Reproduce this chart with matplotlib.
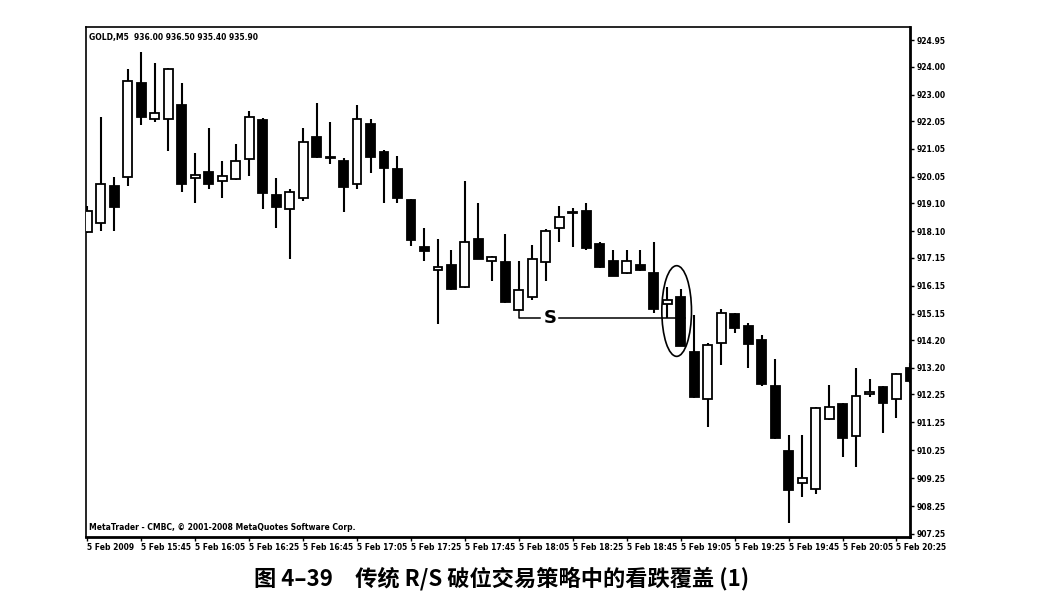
import matplotlib
matplotlib.use("Agg")
import matplotlib.pyplot as plt
from matplotlib.patches import Ellipse
import numpy as np

plt.rcParams['font.family'] = ['Noto Sans CJK SC', 'DejaVu Sans']

# OHLC das velas M5
opens = [918.07, 918.40, 919.72, 920.05, 923.41, 922.12, 922.12, 922.63, 920.01, 920.22,
         919.90, 919.97, 920.69, 922.10, 919.40, 918.90, 919.29, 921.48, 920.73, 920.62,
         919.79, 921.94, 920.94, 920.33, 919.22, 917.54, 916.71, 916.89, 916.10, 917.82,
         917.03, 917.00, 915.28, 915.74, 917.00, 918.22, 918.75, 918.83, 917.64, 917.03,
         916.60, 916.89, 916.60, 915.49, 915.74, 913.77, 912.09, 914.10, 915.13, 914.70,
         914.20, 912.55, 910.22, 909.08, 908.86, 911.37, 911.91, 910.76, 912.27, 912.52,
         912.09, 913.20]
highs = [919.01, 922.20, 920.05, 923.92, 924.52, 924.13, 923.95, 923.41, 920.91, 921.80,
         920.62, 921.23, 922.41, 922.16, 920.01, 919.61, 921.80, 922.70, 922.02, 920.73,
         922.63, 922.12, 921.01, 920.80, 919.24, 918.22, 917.82, 917.43, 919.90, 919.11,
         917.20, 918.00, 917.03, 917.61, 918.18, 919.01, 918.93, 919.11, 917.72, 917.43,
         917.43, 917.43, 917.72, 916.10, 916.03, 915.10, 914.10, 915.31, 915.17, 914.81,
         914.38, 913.52, 910.80, 910.80, 911.80, 912.59, 911.95, 913.20, 912.81, 912.55,
         913.02, 913.38]
lows = [918.05, 918.11, 918.11, 919.72, 921.91, 922.02, 920.98, 919.51, 919.11, 919.61,
        919.29, 919.95, 920.08, 918.90, 918.22, 917.11, 919.18, 920.74, 920.51, 918.79,
        919.61, 920.19, 919.11, 919.11, 917.57, 917.03, 914.78, 916.01, 916.08, 917.09,
        916.32, 915.54, 915.26, 915.64, 916.32, 917.72, 917.54, 917.43, 916.80, 916.48,
        916.58, 916.69, 915.17, 915.00, 913.97, 912.14, 911.08, 913.31, 914.45, 913.20,
        912.55, 910.67, 907.64, 908.58, 908.68, 911.35, 910.01, 909.65, 912.16, 910.87,
        911.41, 912.66]
closes = [918.83, 919.79, 918.97, 923.49, 922.20, 922.34, 923.92, 919.79, 920.12, 919.79,
          920.08, 920.62, 922.20, 919.47, 918.97, 919.51, 921.30, 920.76, 920.73, 919.69,
          922.12, 920.76, 920.37, 919.29, 917.79, 917.39, 916.82, 916.03, 917.72, 917.11,
          917.18, 915.56, 915.99, 917.11, 918.11, 918.61, 918.76, 917.50, 916.82, 916.50,
          917.03, 916.71, 915.31, 915.64, 913.99, 912.16, 914.02, 915.17, 914.63, 914.06,
          912.63, 910.69, 908.83, 909.26, 911.78, 911.80, 910.69, 912.20, 912.34, 911.95,
          912.98, 912.73]

ytick_labels = ["924.95", "924.00", "923.00", "922.05", "921.05", "920.05", "919.10",
                "918.10", "917.15", "916.15", "915.15", "914.20", "913.20", "912.25",
                "911.25", "910.25", "909.25", "908.25", "907.25"]
xtick_labels = ["5 Feb 2009", "5 Feb 15:45", "5 Feb 16:05", "5 Feb 16:25", "5 Feb 16:45",
                "5 Feb 17:05", "5 Feb 17:25", "5 Feb 17:45", "5 Feb 18:05", "5 Feb 18:25",
                "5 Feb 18:45", "5 Feb 19:05", "5 Feb 19:25", "5 Feb 19:45", "5 Feb 20:05",
                "5 Feb 20:25"]

# nível S (rompimento)
s_level = 915.00
s_bar = 32
cover_bar = 43.7

o = np.array(opens)
h = np.array(highs)
l = np.array(lows)
c = np.array(closes)
x = np.arange(len(o))

fig = plt.figure(figsize=(10.37, 6.01), dpi=100)
ax = fig.add_axes([0.0829, 0.1065, 0.7946, 0.8485])

ax.vlines(x, l, h, color='black', linewidth=1.5, zorder=2)
up = c >= o
body_bottom = np.minimum(o, c)
body_h = np.maximum(np.abs(c - o), 0.04)
ax.bar(x, body_h, bottom=body_bottom, width=0.66,
       color=np.where(up, 'white', 'black'), edgecolor='black', linewidth=1.3, zorder=3)

# anotação S
ax.plot([s_bar, s_bar, s_bar + 1.6], [l[s_bar], s_level, s_level], color='black', linewidth=1.1, zorder=4)
ax.plot([s_bar + 3.0, cover_bar + 0.6], [s_level, s_level], color='black', linewidth=1.1, zorder=4)
ax.text(s_bar + 2.3, s_level, "S", fontsize=13, fontweight='bold', family='DejaVu Sans',
        ha='center', va='center', zorder=5)
ax.add_patch(Ellipse((cover_bar, 915.24), width=2.2, height=3.25, fill=False,
                     edgecolor='black', linewidth=1.2, zorder=5))

ax.set_xlim(-0.1, 61.0)
ax.set_ylim(907.14, 925.42)

ax.yaxis.tick_right()
ax.set_yticks([float(v) for v in ytick_labels])
ax.set_yticklabels(ytick_labels)
ax.set_xticks(np.arange(0, 61, 4))
ax.set_xticklabels(xtick_labels, ha='left')
ax.tick_params(axis='y', direction='out', length=3, width=1, labelsize=5.5, pad=2)
ax.tick_params(axis='x', direction='out', length=3, width=1, labelsize=5.5, pad=1)
for lab in ax.get_xticklabels() + ax.get_yticklabels():
    lab.set_fontweight('bold')
    lab.set_family('DejaVu Sans')

ax.spines['right'].set_linewidth(2)
ax.spines['bottom'].set_linewidth(2)
ax.spines['left'].set_linewidth(1.2)
ax.spines['top'].set_linewidth(1.2)

ax.text(0.004, 0.988, "GOLD,M5  936.00 936.50 935.40 935.90", transform=ax.transAxes,
        fontsize=5.5, fontweight='bold', family='DejaVu Sans', va='top', ha='left')
ax.text(0.004, 0.01, "MetaTrader - CMBC, © 2001-2008 MetaQuotes Software Corp.",
        transform=ax.transAxes, fontsize=5.5, fontweight='bold', family='DejaVu Sans',
        va='bottom', ha='left')

fig.text(0.484, 0.038, "图 4–39　传统 R/S 破位交易策略中的看跌覆盖 (1)", fontsize=16,
         fontweight='bold', ha='center', va='center')

fig.savefig("out.png", dpi=100)
